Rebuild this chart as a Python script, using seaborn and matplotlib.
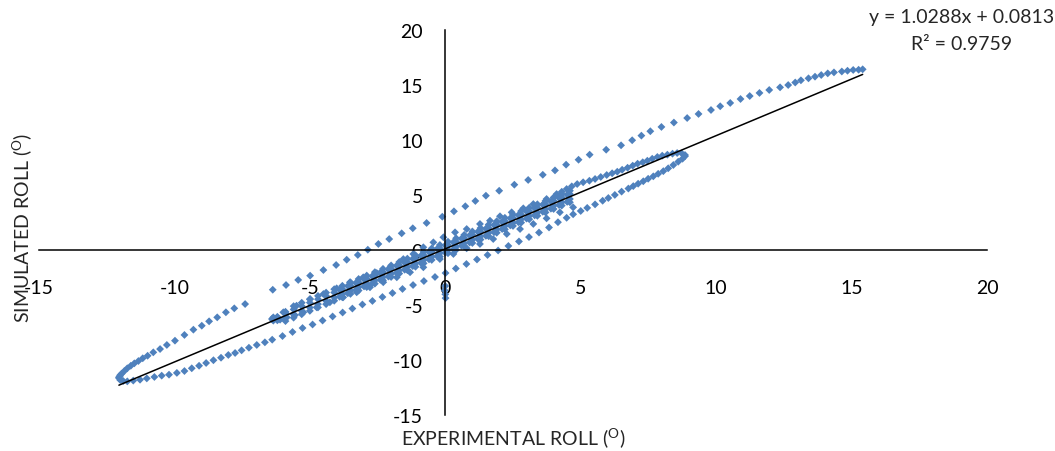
import matplotlib
matplotlib.use("Agg")
import matplotlib.pyplot as plt
import pandas as pd
import seaborn as sns

# Roll angle samples (degrees): experimental (x) against simulated (y),
# grouped by the branch of the trace they belong to.
outer_upper_x = [-11.74, -11.89, -12.00, -12.04, -12.05, -12.02, -12.00, -11.95, -11.85, -11.74,
                 -11.61, -11.48, -11.33, -11.17, -10.99, -10.78, -10.53, -10.28, -9.98, -9.63,
                 -9.30, -8.99, -8.72, -8.42, -8.10, -7.79, -7.39,
                 -6.37, -5.88, -5.43, -4.99, -4.50, -4.03, -3.64, -3.23, -2.86, -2.47, -2.07,
                 -1.61, -1.20, -0.69,
                 -0.11, 0.32, 0.74, 1.11, 1.50, 1.99, 2.55, 3.06, 3.60, 4.05, 4.46, 4.92, 5.33,
                 5.94, 6.49, 6.90, 7.24, 7.57, 7.98, 8.44,
                 8.93, 9.35, 9.81, 10.15, 10.52, 10.90, 11.24, 11.60, 11.96, 12.36, 12.66, 12.92,
                 13.13, 13.41, 13.65, 13.88, 14.12, 14.35, 14.64, 14.85, 15.06, 15.26, 15.41]
outer_upper_y = [-11.97, -11.94, -11.85, -11.69, -11.60, -11.51, -11.40, -11.27, -11.03, -10.78,
                 -10.55, -10.33, -10.12, -9.87, -9.64, -9.33, -9.03, -8.66, -8.27, -7.75,
                 -7.27, -6.91, -6.51, -6.15, -5.69, -5.33, -4.94,
                 -3.64, -3.21, -2.75, -2.36, -1.85, -1.39, -0.91, -0.48, 0.00, 0.52, 0.97,
                 1.49, 1.95, 2.43,
                 3.00, 3.49, 3.95, 4.43, 4.91, 5.36, 5.91, 6.34, 6.81, 7.21, 7.73, 8.18, 8.64,
                 9.09, 9.49, 9.95, 10.37, 10.77, 11.16, 11.56,
                 11.97, 12.34, 12.70, 13.04, 13.34, 13.70, 13.97, 14.25, 14.52, 14.76, 14.97, 15.20,
                 15.40, 15.58, 15.73, 15.88, 16.03, 16.12, 16.20, 16.27, 16.34, 16.36, 16.40]

outer_lower_x = [-11.52, -11.27, -11.02, -10.74, -10.47, -10.20, -9.91, -9.63, -9.36, -9.09,
                 -8.83, -8.56, -8.28, -8.01, -7.76, -7.52, -7.25, -6.96, -6.66, -6.39,
                 -6.01, -5.64, -5.27, -4.90, -4.53, -4.16, -3.79, -3.43, -3.06, -2.69,
                 -2.32, -1.95, -1.58, -1.19, -0.79, -0.38, 0.01, 0.39, 0.78, 1.17,
                 1.56, 1.95, 2.33, 2.72, 3.09, 3.46, 3.83, 4.16,
                 4.48, 4.72, 5.00, 5.24, 5.53, 5.81, 6.02, 6.26, 6.51, 6.76, 6.94, 7.12,
                 7.31, 7.49, 7.68, 7.86, 8.05, 8.23, 8.42, 8.60, 8.76, 8.85]
outer_lower_y = [-11.90, -11.82, -11.70, -11.57, -11.45, -11.36, -11.20, -11.03, -10.78, -10.55,
                 -10.30, -10.05, -9.82, -9.57, -9.39, -9.15, -8.91, -8.66, -8.42, -8.18,
                 -7.85, -7.48, -7.12, -6.80, -6.44, -6.07, -5.71, -5.35, -4.98, -4.66,
                 -4.30, -3.94, -3.57, -3.21, -2.85, -2.48, -2.12, -1.71, -1.30, -0.89,
                 -0.48, -0.07, 0.34, 0.75, 1.15, 1.56, 2.02, 2.50,
                 2.90, 3.22, 3.52, 3.80, 4.12, 4.45, 4.70, 4.98, 5.28, 5.56, 5.78, 6.00,
                 6.22, 6.45, 6.67, 6.90, 7.14, 7.40, 7.70, 8.00, 8.27, 8.50]

middle_upper_x = [8.85, 8.73, 8.56, 8.39, 8.20, 8.01, 7.83, 7.64, 7.46, 7.29,
                  7.10, 6.92, 6.73, 6.53, 6.35, 6.16, 5.96, 5.74, 5.53, 5.32,
                  5.09, 4.87, 4.67, 4.48, 4.30, 4.11, 3.74, 3.25, 2.88, 2.45,
                  2.02, 1.65, 1.28, 0.79, 0.36, -0.07, -0.44, -0.81, -1.18, -1.55,
                  -2.04, -2.53, -3.03, -3.52, -4.01, -4.50, -4.99, -5.49, -5.98, -6.35]
middle_upper_y = [8.61, 8.76, 8.79, 8.73, 8.64, 8.55, 8.43, 8.27, 8.09, 7.95,
                  7.82, 7.64, 7.45, 7.27, 7.09, 6.95, 6.79, 6.61, 6.43, 6.27,
                  6.13, 5.97, 5.76, 5.52, 5.27, 5.06, 4.61, 4.15, 3.76, 3.40,
                  3.04, 2.64, 2.34, 1.88, 1.58, 1.13, 0.67, 0.22, -0.39, -0.85,
                  -1.60, -2.12, -2.51, -2.96, -3.51, -4.03, -4.48, -5.09, -5.69, -6.15]

middle_lower_x = [-6.40, -6.35, -6.10, -5.85, -5.55, -5.24, -4.75, -4.26, -3.77, -3.27,
                  -2.78, -2.29, -1.79, -1.30, -0.81, -0.20, 0.30, 0.79, 1.28, 1.77,
                  2.27, 2.76, 3.25, 3.74, 4.23, 4.72]
middle_lower_y = [-6.30, -6.45, -6.36, -6.15, -5.95, -5.69, -5.24, -4.78, -4.33, -3.87,
                  -3.42, -2.96, -2.51, -2.05, -1.60, -0.85, -0.39, 0.13, 0.52, 0.97,
                  1.43, 1.88, 2.34, 2.85, 3.40, 3.85]

# Small repeated cycles that pile up along the central band
band_x = [-6.2, -5.9, -5.6, -5.3, -5.0, -4.7, -4.4, -4.1, -3.8, -3.5, -3.2, -2.9, -2.6,
          -2.3, -2.0, -1.7, -1.4, -1.1, -0.8, -0.5, -0.2, 0.1, 0.4, 0.7, 1.0, 1.3, 1.6,
          1.9, 2.2, 2.5, 2.8, 3.1, 3.4, 3.7, 4.0, 4.3, 4.6]
band_top_y = [-6.15, -5.64, -5.13, -4.82, -4.51, -4.20, -3.90, -3.59, -3.28, -2.97, -2.66,
              -2.35, -2.04, -1.74, -1.43, -1.12, -0.81, -0.50, -0.19, 0.12, 0.43, 0.73, 1.04,
              1.35, 1.66, 1.97, 2.28, 2.59, 2.90, 3.20, 3.51, 3.82, 4.13, 4.44, 4.75, 5.06,
              5.36]
band_mid_y = [-6.10, -5.76, -5.43, -5.12, -4.81, -4.50, -4.20, -3.89, -3.58, -3.27, -2.96,
              -2.65, -2.34, -2.04, -1.73, -1.42, -1.11, -0.80, -0.49, -0.18, 0.13, 0.43, 0.74,
              1.05, 1.36, 1.67, 1.98, 2.29, 2.60, 2.90, 3.21, 3.52, 3.83, 4.14, 4.45, 4.76,
              5.06]
band_low_y = [-6.42, -6.19, -5.88, -5.57, -5.26, -4.95, -4.65, -4.34, -4.03, -3.72, -3.41,
              -3.10, -2.79, -2.49, -2.18, -1.87, -1.56, -1.25, -0.94, -0.63, -0.32, -0.02,
              0.29, 0.60, 0.91, 1.22, 1.53, 1.84, 2.15, 2.45, 2.76, 3.07, 3.38, 3.69, 4.00,
              4.31, 4.61]
band_base_x = [-5.9, -5.6, -5.3, -5.0, -4.7, -4.4, -4.1, -3.8, -3.5, -3.2, -2.9, -2.6, -2.3,
               -2.0, -1.7, -1.4, -1.1, -0.8, -0.5, -0.2, 0.1, 0.4, 0.7, 1.0, 1.3, 1.6, 1.9,
               2.2, 2.5, 2.8, 3.1, 3.4, 3.7, 4.0, 4.3, 4.6]
band_base_y = [-6.49, -6.18, -5.87, -5.56, -5.25, -4.95, -4.64, -4.33, -4.02, -3.71, -3.40,
               -3.09, -2.79, -2.48, -2.17, -1.86, -1.55, -1.24, -0.93, -0.63, -0.32, -0.01,
               0.30, 0.61, 0.92, 1.23, 1.54, 1.85, 2.16, 2.46, 2.77, 3.08, 3.39, 3.70, 4.01,
               4.31]

inner_upper_x = [-3.9, -3.6, -3.3, -3.0, -2.7, -2.4, -2.1, -1.8, -1.5, -1.2, -0.9, -0.6, -0.3,
                 0.0, 0.3, 0.6, 0.9, 1.2, 1.5, 1.8, 2.1, 2.4, 2.7, 3.0, 3.3, 3.6, 3.9, 4.2, 4.5]
inner_upper_y = [-3.63, -3.30, -3.02, -2.69, -2.41, -2.08, -1.79, -1.46, -1.17, -0.84, -0.55,
                 -0.22, 0.08, 0.39, 0.68, 1.01, 1.30, 1.63, 1.91, 2.24, 2.53, 2.86, 3.15, 3.48,
                 3.77, 4.10, 4.38, 4.71, 5.00]
inner_lower_x = [-3.9, -3.6, -3.3, -3.0, -2.7, -2.4, -2.1, -1.8, -1.5, -1.2, -0.9, -0.6, -0.3,
                 0.0, 0.3, 0.6, 0.9, 1.2, 1.5, 1.8, 2.1, 2.4, 2.7, 3.0, 3.3, 3.6, 3.9, 4.2, 4.5]
inner_lower_y = [-4.28, -3.96, -3.67, -3.34, -3.06, -2.73, -2.44, -2.11, -1.82, -1.49, -1.20,
                 -0.88, -0.59, -0.26, 0.03, 0.36, 0.65, 0.98, 1.26, 1.59, 1.88, 2.21, 2.50,
                 2.83, 3.12, 3.45, 3.73, 4.06, 4.35]

start_x = [0.00, -0.02, 0.00, 0.01]
start_y = [-3.30, -3.70, -4.05, -4.40]

# Linear trendline reported for the data
slope = 1.0288
intercept = 0.0813
r_squared = 0.9759

x_ticks = [-15, -10, -5, 0, 5, 10, 15, 20]
y_ticks = [-15, -10, -5, 0, 5, 10, 15, 20]

branches = [
    (outer_upper_x, outer_upper_y), (outer_lower_x, outer_lower_y),
    (middle_upper_x, middle_upper_y), (middle_lower_x, middle_lower_y),
    (band_x, band_top_y), (band_x, band_mid_y), (band_x, band_low_y),
    (band_base_x, band_base_y),
    (inner_upper_x, inner_upper_y), (inner_lower_x, inner_lower_y),
    (start_x, start_y),
]
samples = pd.concat(
    [pd.DataFrame({"experimental": bx, "simulated": by}) for bx, by in branches],
    ignore_index=True,
)

x_lo = samples["experimental"].min()
x_hi = samples["experimental"].max()
trend = pd.DataFrame({"experimental": [x_lo, x_hi]})
trend["simulated"] = slope * trend["experimental"] + intercept

sns.set_style("white")
plt.rcParams["font.family"] = ["Lato", "DejaVu Sans"]
plt.rcParams["axes.unicode_minus"] = False
plt.rcParams["mathtext.fontset"] = "custom"
plt.rcParams["mathtext.rm"] = "Lato"
plt.rcParams["mathtext.it"] = "Lato:italic"

fig = plt.figure(figsize=(10.55, 4.52), dpi=100)
ax = fig.add_axes([39 / 1055, 1 - 415.7 / 452, 948 / 1055, 385 / 452])

sns.scatterplot(data=samples, x="experimental", y="simulated", marker="D", s=16,
                color="#4F81BD", edgecolor="none", linewidth=0, ax=ax, legend=False,
                zorder=2)
sns.lineplot(data=trend, x="experimental", y="simulated", color="black", linewidth=1.1,
             ax=ax, zorder=3)

ax.set_xlim(-15, 20)
ax.set_ylim(-15, 20)
ax.set_xticks(x_ticks)
ax.set_yticks(y_ticks)
ax.set_xticklabels([str(t) for t in x_ticks])
ax.set_yticklabels([str(t) for t in y_ticks])
ax.spines["left"].set_position(("data", 0))
ax.spines["bottom"].set_position(("data", 0))
ax.spines["top"].set_visible(False)
ax.spines["right"].set_visible(False)
for side in ("left", "bottom"):
    ax.spines[side].set_color("black")
    ax.spines[side].set_linewidth(1.1)
ax.tick_params(axis="both", length=0, labelsize=14, colors="black")
ax.tick_params(axis="x", pad=21)
ax.tick_params(axis="y", pad=16)
ax.set_xlabel("")
ax.set_ylabel("")
ax.grid(False)

fig.text(513 / 1055, 1 - 438 / 452, r"EXPERIMENTAL ROLL ($^{\mathrm{O}}$)",
         ha="center", va="center", fontsize=14)
fig.text(22 / 1055, 1 - 228 / 452, r"SIMULATED ROLL ($^{\mathrm{O}}$)",
         ha="center", va="center", rotation=90, fontsize=14)

fig.text(962 / 1055, 1 - 18 / 452, f"y = {slope:.4f}x + {intercept:.4f}",
         ha="center", va="center", fontsize=14)
fig.text(962 / 1055, 1 - 45 / 452, f"R\u00b2 = {r_squared:.4f}",
         ha="center", va="center", fontsize=14)

fig.savefig("out.png", dpi=100, facecolor="white")
